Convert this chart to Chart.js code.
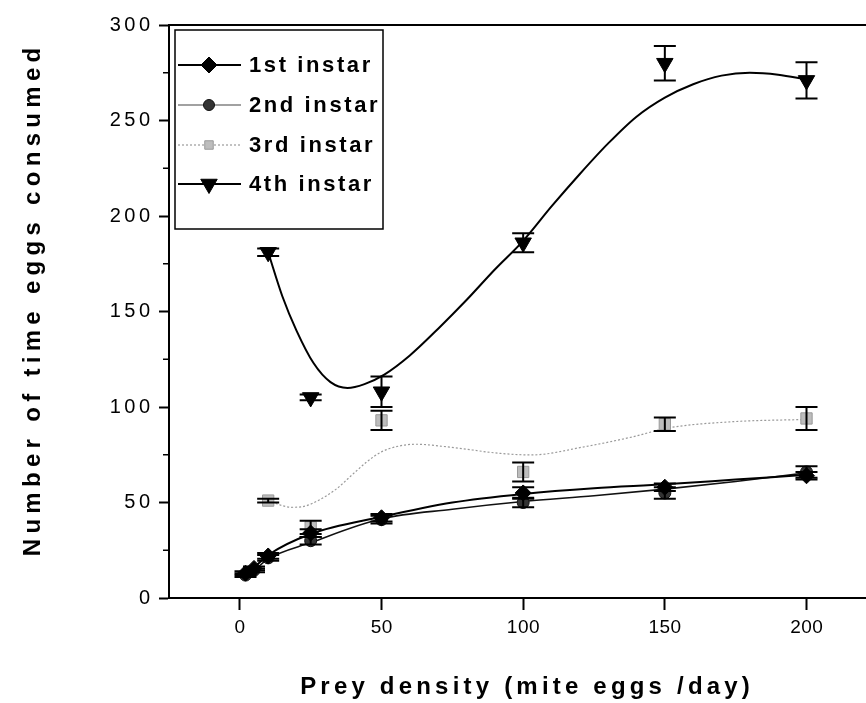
<!DOCTYPE html>
<html><head><meta charset="utf-8">
<script src="https://cdn.jsdelivr.net/npm/chart.js@4.4.1/dist/chart.umd.min.js"></script>
<style>html,body{margin:0;padding:0;background:#fff;}canvas{display:block}</style>
</head><body>
<canvas id="c" width="866" height="703"></canvas>
<script>
// ---- tick labels ----
const xTicks = [0, 50, 100, 150, 200];
const yTicks = [0, 50, 100, 150, 200, 250, 300];
const yMinorTicks = [25, 75, 125, 175, 225, 275];
const seriesNames = ['1st instar', '2nd instar', '3rd instar', '4th instar'];
const xTitle = 'Prey density (mite eggs /day)';
const yTitle = 'Number of time eggs consumed';

// ---- measured points (mean, error) ----
const x1 = [2, 5, 10, 25, 50, 100, 150, 200];
const y1 = [13, 15.5, 22, 34, 42, 55, 58, 64];
const e1 = [1, 1, 1.5, 2, 2, 3, 2, 2];
const x2 = [2, 5, 10, 25, 50, 100, 150, 200];
const y2 = [12, 14.5, 21, 30, 41, 50, 55, 66];
const e2 = [1, 1, 1.5, 2, 2, 2.5, 3, 3];
const x3 = [10, 25, 50, 100, 150, 200];
const y3 = [51, 37, 93, 66, 91, 94];
const e3 = [1, 3.5, 5, 5, 3.5, 6];
const x4 = [10, 25, 50, 100, 150, 200];
const y4 = [181, 105, 108, 186, 280, 271];
const e4 = [2, 1.5, 8, 5, 9, 9.5];

// ---- fitted curves ----
const c1x = [2, 5, 10, 25, 50, 75, 100, 125, 150, 175, 200];
const c1y = [13, 16, 22.5, 33.5, 42.5, 50, 54.5, 57.5, 59.5, 62, 64.5];
const c2x = [2, 5, 10, 25, 50, 75, 100, 125, 150, 175, 200];
const c2y = [12, 14.5, 20.5, 29, 41.5, 46.5, 50.5, 53.5, 57, 61, 65.5];
const c3x = [10, 14, 18, 22, 28, 34, 40, 45, 50, 56, 62, 74, 92, 103, 121, 139, 151, 174, 200];
const c3y = [51, 48.8, 47.5, 47.8, 51.3, 57, 65, 71.5, 76.5, 79.5, 80.5, 79, 75.7, 74.9, 79, 84.5, 89, 92.3, 93.5];
const c4x = [10, 15, 20, 26, 32, 38, 44, 51, 60, 70, 80, 90, 100, 110, 120, 130, 140, 150, 160, 170, 180, 190, 200];
const c4y = [181, 158, 140, 123, 113, 110, 112, 117, 127, 141, 156, 172, 187, 205, 222, 238, 252, 262, 269, 273.5, 275, 274, 271.5];

const pts = (xs, ys) => xs.map((x, i) => ({x: x, y: ys[i]}));
const FONT = '"Liberation Sans", Arial, sans-serif';

const styles = [
  {pointStyle: 'rectRot', radius: 8, rotation: 0, bg: '#000', bc: '#000', line: '#000', lw: 2, dash: []},
  {pointStyle: 'circle', radius: 6, rotation: 0, bg: '#333', bc: '#111', line: '#111', lw: 1.6, dash: []},
  {pointStyle: 'rect', radius: 8, rotation: 0, bg: '#bdbdbd', bc: '#9a9a9a', line: '#9a9a9a', lw: 1.2, dash: [2, 2]},
  {pointStyle: 'triangle', radius: 9.5, rotation: 180, bg: '#000', bc: '#000', line: '#000', lw: 2, dash: []}
];

const curves = [[c1x, c1y], [c2x, c2y], [c3x, c3y], [c4x, c4y]];
const marks = [[x1, y1, e1], [x2, y2, e2], [x3, y3, e3], [x4, y4, e4]];

const datasets = [];
curves.forEach((c, i) => {
  const s = styles[i];
  datasets.push({
    label: seriesNames[i] + ' fit', data: pts(c[0], c[1]), showLine: true,
    borderColor: s.line, borderWidth: s.lw, borderDash: s.dash, pointRadius: 0,
    cubicInterpolationMode: 'monotone', fill: false, order: 2
  });
});
marks.forEach((m, i) => {
  const s = styles[i];
  datasets.push({
    label: seriesNames[i], data: pts(m[0], m[1]), showLine: false,
    pointStyle: s.pointStyle, pointRadius: s.radius, pointRotation: s.rotation,
    pointBackgroundColor: s.bg, pointBorderColor: s.bc, pointBorderWidth: 1, order: 1
  });
});

function spacedText(ctx, text, x, y, font, spacing, align) {
  ctx.save();
  ctx.font = font;
  ctx.fillStyle = '#000';
  ctx.textBaseline = 'middle';
  ctx.textAlign = 'left';
  let w = 0;
  for (const ch of text) w += ctx.measureText(ch).width + spacing;
  w -= spacing;
  let sx = x;
  if (align === 'center') sx = x - w / 2;
  else if (align === 'right') sx = x - w;
  for (const ch of text) {
    ctx.fillText(ch, sx, y);
    sx += ctx.measureText(ch).width + spacing;
  }
  ctx.restore();
}

const decor = {
  id: 'decor',
  afterDatasetsDraw(chart) {
    const ctx = chart.ctx, xs = chart.scales.x, ys = chart.scales.y;
    ctx.save();
    ctx.strokeStyle = '#000';
    ctx.lineWidth = 2;
    marks.forEach(m => {
      m[0].forEach((xv, i) => {
        const px = xs.getPixelForValue(xv);
        const t = ys.getPixelForValue(m[1][i] + m[2][i]);
        const b = ys.getPixelForValue(m[1][i] - m[2][i]);
        ctx.beginPath();
        ctx.moveTo(px, t); ctx.lineTo(px, b);
        ctx.moveTo(px - 11, t); ctx.lineTo(px + 11, t);
        ctx.moveTo(px - 11, b); ctx.lineTo(px + 11, b);
        ctx.stroke();
      });
    });
    ctx.restore();
  },
  afterDraw(chart) {
    const ctx = chart.ctx, xs = chart.scales.x, ys = chart.scales.y, a = chart.chartArea;
    ctx.save();
    ctx.strokeStyle = '#000';
    ctx.lineWidth = 2;
    ctx.beginPath();
    ctx.moveTo(a.left, a.top); ctx.lineTo(a.right, a.top);
    ctx.stroke();
    ctx.lineWidth = 1.5;
    yMinorTicks.forEach(v => {
      const py = ys.getPixelForValue(v);
      ctx.beginPath(); ctx.moveTo(a.left - 6, py); ctx.lineTo(a.left, py); ctx.stroke();
    });
    ctx.restore();
    yTicks.forEach(v => spacedText(ctx, String(v), 150, ys.getPixelForValue(v), '20px ' + FONT, 3.5, 'right'));
    xTicks.forEach(v => spacedText(ctx, String(v), xs.getPixelForValue(v), 628, '19px ' + FONT, 0.5, 'center'));
    spacedText(ctx, xTitle, 525, 687, 'bold 24px ' + FONT, 4.2, 'center');
    ctx.save();
    ctx.translate(33, 302);
    ctx.rotate(-Math.PI / 2);
    spacedText(ctx, yTitle, 0, 0, 'bold 24px ' + FONT, 5.3, 'center');
    ctx.restore();
    ctx.save();
    ctx.fillStyle = '#fff';
    ctx.fillRect(175, 30, 208, 199);
    ctx.strokeStyle = '#000';
    ctx.lineWidth = 1.5;
    ctx.strokeRect(175, 30, 208, 199);
    const rows = [65, 105, 145, 184];
    rows.forEach((ry, i) => {
      const s = styles[i];
      ctx.save();
      ctx.strokeStyle = i === 1 ? '#444' : s.line;
      ctx.lineWidth = i === 1 ? 1.2 : s.lw;
      ctx.setLineDash(s.dash);
      ctx.beginPath(); ctx.moveTo(178, ry); ctx.lineTo(241, ry); ctx.stroke();
      ctx.restore();
      ctx.save();
      ctx.fillStyle = s.bg; ctx.strokeStyle = s.bc; ctx.lineWidth = 1;
      const r = i === 2 ? 6 : (i === 1 ? 5.5 : s.radius);
      Chart.helpers.drawPoint(ctx, {pointStyle: s.pointStyle, radius: r, rotation: s.rotation, borderWidth: 1}, 209, ry);
      ctx.restore();
      spacedText(ctx, seriesNames[i], 249, ry + 1, 'bold 22px ' + FONT, 2.6, 'left');
    });
    ctx.restore();
  }
};

new Chart(document.getElementById('c'), {
  type: 'scatter',
  data: {datasets: datasets},
  options: {
    responsive: false, animation: false, devicePixelRatio: 1,
    layout: {autoPadding: false, padding: {top: 25, right: 0, left: 0, bottom: 0}},
    plugins: {legend: {display: false}, tooltip: {enabled: false}},
    scales: {
      x: {
        type: 'linear', min: -25, max: 221, position: 'bottom',
        ticks: {stepSize: 50, includeBounds: false, display: false},
        grid: {drawOnChartArea: false, drawTicks: true, tickLength: 12, tickWidth: 2, tickColor: '#000'},
        border: {display: true, color: '#000', width: 2},
        afterFit: s => { s.height = 105; s.paddingLeft = 0; s.paddingRight = 0; }
      },
      y: {
        type: 'linear', min: 0, max: 300, position: 'left',
        ticks: {stepSize: 50, display: false},
        grid: {drawOnChartArea: false, drawTicks: true, tickLength: 10, tickWidth: 2, tickColor: '#000'},
        border: {display: true, color: '#000', width: 2},
        afterFit: s => { s.width = 169; s.paddingTop = 0; s.paddingBottom = 0; }
      }
    }
  },
  plugins: [decor]
});
</script>
</body></html>
